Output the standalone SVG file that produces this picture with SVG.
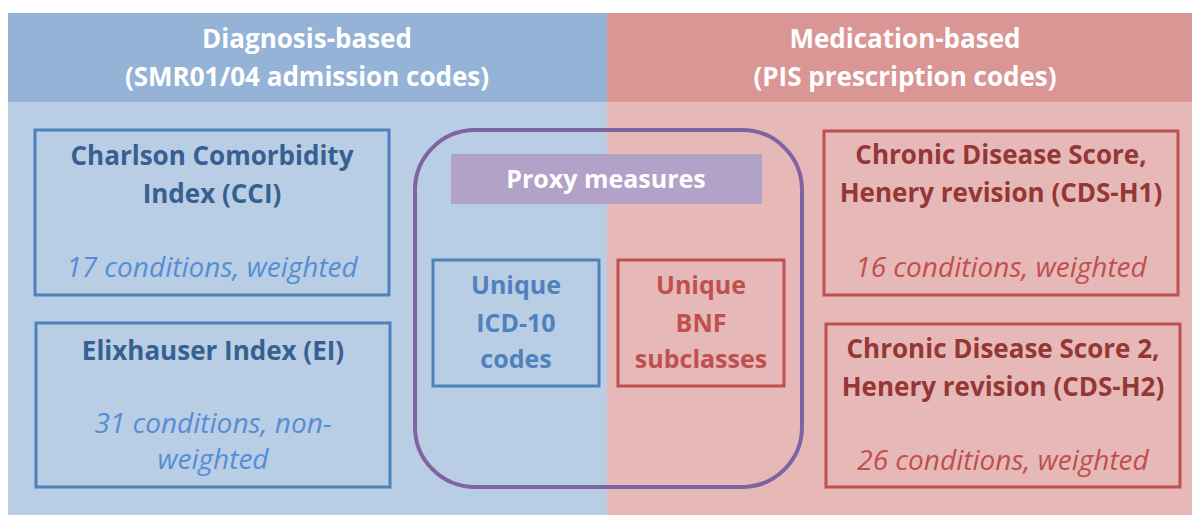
<svg xmlns="http://www.w3.org/2000/svg" width="1192" height="515" viewBox="0 0 1192 515">
<style>
.hdr{font-family:"Open Sans",Lato,sans-serif;font-weight:bold;font-size:26px;fill:#ffffff;text-anchor:middle}
.t{font-family:"Open Sans",Lato,sans-serif;font-weight:bold;font-size:26px;text-anchor:middle}
.u{font-family:"Open Sans",Lato,sans-serif;font-weight:bold;font-size:25px;text-anchor:middle}
.i{font-family:"Open Sans",Lato,sans-serif;font-style:italic;font-size:28px;text-anchor:middle}
.bt{fill:#376092}.bi{fill:#558ed5}.bb{fill:none;stroke:#4f81bd;stroke-width:3}
.rt{fill:#953735}.ri{fill:#c0504d}.rb{fill:none;stroke:#c0504d;stroke-width:3}
</style>
<rect width="1192" height="515" fill="#ffffff"/>
<g id="left-panel">
<rect x="8" y="13" width="599" height="502" fill="#b9cde5"/>
<rect x="8" y="13" width="599" height="89" fill="#95b3d7"/>
<text class="hdr" x="307" y="48">Diagnosis-based</text>
<text class="hdr" x="307" y="86">(SMR01/04 admission codes)</text>
</g>
<g id="right-panel">
<rect x="607" y="13" width="585" height="502" fill="#e6b9b8"/>
<rect x="607" y="13" width="585" height="89" fill="#d99694"/>
<text class="hdr" x="905" y="48">Medication-based</text>
<text class="hdr" x="905" y="86">(PIS prescription codes)</text>
</g>
<g id="cci">
<rect class="bb" x="35" y="130" width="354" height="165"/>
<text class="t bt" x="212" y="165">Charlson Comorbidity</text>
<text class="t bt" x="212" y="203">Index (CCI)</text>
<text class="i bi" x="212" y="277">17 conditions, weighted</text>
</g>
<g id="ei">
<rect class="bb" x="36" y="323" width="354" height="164"/>
<text class="t bt" x="213" y="360">Elixhauser Index (EI)</text>
<text class="i bi" x="213" y="433">31 conditions, non-</text>
<text class="i bi" x="213" y="469">weighted</text>
</g>
<g id="proxy">
<rect x="415" y="130" width="387" height="357" rx="60" ry="60" fill="none" stroke="#8064a2" stroke-width="4"/>
<rect x="451" y="154" width="311" height="50" fill="#b3a2c7"/>
<text class="u" fill="#ffffff" x="606" y="188">Proxy measures</text>
</g>
<g id="icd">
<rect class="bb" x="433" y="260" width="166" height="126"/>
<text class="u" fill="#4f81bd" x="516" y="294">Unique</text>
<text class="u" fill="#4f81bd" x="516" y="332">ICD-10</text>
<text class="u" fill="#4f81bd" x="516" y="368">codes</text>
</g>
<g id="bnf">
<rect class="rb" x="618" y="260" width="166" height="126"/>
<text class="u" fill="#c0504d" x="701" y="294">Unique</text>
<text class="u" fill="#c0504d" x="701" y="332">BNF</text>
<text class="u" fill="#c0504d" x="701" y="368">subclasses</text>
</g>
<g id="cdsh1">
<rect class="rb" x="824" y="131" width="354" height="164"/>
<text class="t rt" x="1001" y="164">Chronic Disease Score,</text>
<text class="t rt" x="1001" y="202">Henery revision (CDS-H1)</text>
<text class="i ri" x="1001" y="277">16 conditions, weighted</text>
</g>
<g id="cdsh2">
<rect class="rb" x="826" y="324" width="354" height="163"/>
<text class="t rt" x="1003" y="358">Chronic Disease Score 2,</text>
<text class="t rt" x="1003" y="396">Henery revision (CDS-H2)</text>
<text class="i ri" x="1003" y="470">26 conditions, weighted</text>
</g>
<g id="connectors"></g>
</svg>
